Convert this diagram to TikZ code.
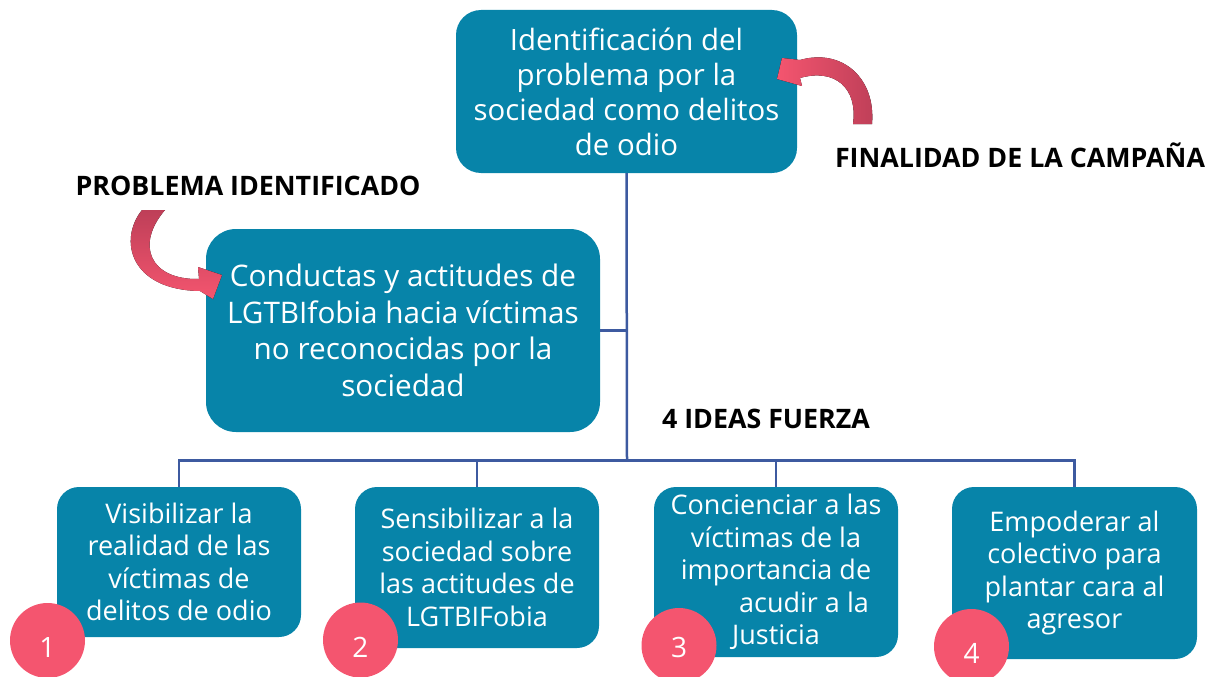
\documentclass[tikz,border=0pt]{standalone}
\usepackage{fontspec}
\setmainfont{Open Sans}
\definecolor{boxteal}{HTML}{0784A9}
\definecolor{linkblue}{HTML}{3D5AA0}
\definecolor{numpink}{HTML}{F4556F}
\definecolor{arrowdark}{HTML}{BE3F58}
\begin{document}
\begin{tikzpicture}[x=1pt,y=-1pt,
  box/.style={fill=boxteal, draw=none, text=white, align=center, inner sep=0pt},
  numc/.style={circle, fill=numpink, text=white, minimum size=75pt, inner sep=0pt, font=\fontsize{28}{30}\selectfont},
  conn/.style={draw=linkblue, line width=2.5pt},
  lbl/.style={font=\bfseries\fontsize{26.8}{30}\selectfont, text=black, inner sep=0pt},
  bigtxt/.style={font=\fontsize{29.4}{35}\selectfont},
  midtxt/.style={font=\fontsize{29.7}{36.5}\selectfont},
  smalltxt/.style={font=\fontsize{27}{32.5}\selectfont}]
\useasboundingbox (0,0) rectangle (1216,677);

% boxes
\node[box, bigtxt, minimum width=341pt, minimum height=163pt, rounded corners=25pt] (top) at (626.5,91.5)
  {Identificación del\\problema por la\\sociedad como delitos\\de odio};
\node[box, midtxt, minimum width=394pt, minimum height=203pt, rounded corners=30pt] (mid) at (403,330.5)
  {Conductas y actitudes de\\LGTBIfobia hacia víctimas\\no reconocidas por la\\sociedad};
\node[box, smalltxt, minimum width=244pt, minimum height=150pt, rounded corners=22pt] (b1) at (179,562)
  {Visibilizar la\\realidad de las\\víctimas de\\delitos de odio};
\node[box, smalltxt, minimum width=244pt, minimum height=161pt, rounded corners=22pt] (b2) at (477,567.5)
  {Sensibilizar a la\\sociedad sobre\\las actitudes de\\LGTBIFobia};
\node[box, smalltxt, minimum width=244pt, minimum height=170pt, rounded corners=22pt] (b3) at (776,572)
  {Concienciar a las\\víctimas de la\\importancia de\\\hspace*{56pt}acudir a la\\Justicia};
\node[box, smalltxt, minimum width=245pt, minimum height=172pt, rounded corners=22pt] (b4) at (1074.5,573)
  {Empoderar al\\colectivo para\\plantar cara al\\agresor};

% connectors
\coordinate (bus) at (627,460.5);
\draw[conn] (top.south) -- (bus);
\draw[conn] (mid.east) -- (mid.east -| top.south);
\draw[conn] (b1.north) |- (bus -| b4.north) -- (b4.north);
\draw[conn] (b2.north) -- (b2.north |- bus);
\draw[conn] (b3.north) -- (b3.north |- bus);

% number circles
\node[numc] (c1) at (47.5,640.5) {\raisebox{-16.5pt}[0pt][0pt]{1}};
\node[numc] (c2) at (360.5,640) {\raisebox{-17pt}[0pt][0pt]{2}};
\node[numc] (c3) at (679,645.5) {\raisebox{-12pt}[0pt][0pt]{3}};
\node[numc] (c4) at (971.5,646.5) {\raisebox{-16.5pt}[0pt][0pt]{4}};

% labels
\node[lbl] (lprob) at (248,186) {PROBLEMA IDENTIFICADO};
\node[lbl] (lfin) at (1020,155) {FINALIDAD DE LA CAMPAÑA};
\node[lbl] (lideas) at (766,419) {4 IDEAS FUERZA};

% curved arrows
\fill[left color=numpink, right color=arrowdark]
  (872,124) .. controls (876,78) and (842,48) .. (800,60)
  -- (782,58) -- (777,79) -- (802,86) -- (800,78)
  .. controls (835,68) and (858,88) .. (853,124) -- cycle;
\fill[top color=arrowdark, bottom color=numpink]
  (142,210) .. controls (118,240) and (130,290) .. (200,291)
  -- (213,299) -- (222,275) -- (198,267) -- (199,279)
  .. controls (150,280) and (135,245) .. (165,210) -- cycle;
\end{tikzpicture}
\end{document}
